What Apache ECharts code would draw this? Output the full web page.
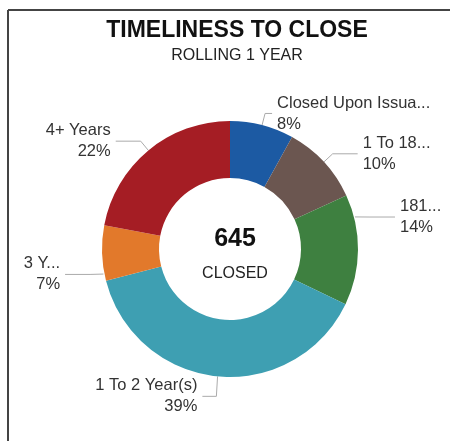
<!DOCTYPE html>
<html>
<head>
<meta charset="utf-8">
<script src="https://cdn.jsdelivr.net/npm/echarts@6/dist/echarts.min.js"></script>
<style>
html,body{margin:0;padding:0;background:#fff;}
#chart{width:450px;height:441px;}
</style>
</head>
<body>
<div id="chart"></div>
<script>
var categories = ["Closed Upon Issua...", "1 To 18...", "181...", "1 To 2 Year(s)", "3 Y...", "4+ Years"];
var values = [52, 65, 90, 251, 45, 142];
var colors = ["#1c5aa3", "#6b5650", "#3e8040", "#3e9fb2", "#e2792b", "#a51d24"];
var titleText = "TIMELINESS TO CLOSE";
var subtitleText = "ROLLING 1 YEAR";
var centerCaption = "CLOSED";

// label styling tweaks (line lengths / vertical nudges), not data
var lineLen2 = [7, 25, 25, 14, 25, 25];
var labelNudgeY = [0, 0, -33, 8, 21, 0];

var CX = 230, CY = 249, R_IN = 71, R_OUT = 128;

var total = values.reduce(function(a,b){return a+b;},0);
var data = categories.map(function(c,i){
  return {name:c, value:values[i], itemStyle:{color:colors[i]}, labelLine:{length2:lineLen2[i]}};
});

var chart = echarts.init(document.getElementById('chart'), null, {renderer:'canvas'});
var font = 'Liberation Sans, Arial, sans-serif';
chart.setOption({
  animation:false,
  title:[
    {text:titleText, left:232, top:14, textAlign:'center',
     textStyle:{fontFamily:font, fontSize:23, fontWeight:'bold', color:'#111'}},
    {text:subtitleText, left:232, top:43, textAlign:'center',
     textStyle:{fontFamily:font, fontSize:16, fontWeight:'normal', color:'#222'}},
    {text:String(total), left:230, top:222, textAlign:'center',
     textStyle:{fontFamily:font, fontSize:25, fontWeight:'bold', color:'#111'}},
    {text:centerCaption, left:230, top:261, textAlign:'center',
     textStyle:{fontFamily:font, fontSize:16, fontWeight:'normal', color:'#222'}}
  ],
  graphic:[
    {type:'line', shape:{x1:8,y1:10,x2:450,y2:10}, style:{stroke:'#444', lineWidth:2}},
    {type:'line', shape:{x1:8,y1:10,x2:8,y2:441}, style:{stroke:'#444', lineWidth:2}}
  ],
  series:[{
    type:'pie',
    center:[CX,CY],
    radius:[R_IN,R_OUT],
    startAngle:90,
    clockwise:true,
    avoidLabelOverlap:false,
    data:data,
    label:{
      show:true,
      formatter:function(p){return p.name + '\n' + Math.round(p.percent) + '%';},
      fontFamily:font,
      fontSize:16.5,
      lineHeight:21,
      color:'#333'
    },
    labelLine:{
      show:true,
      length:12,
      length2:25,
      lineStyle:{color:'#aaa', width:1}
    },
    labelLayout:function(p){
      var d = labelNudgeY[p.dataIndex];
      if (!d || !p.labelLinePoints) return {};
      var pts = p.labelLinePoints.map(function(q){return [q[0], q[1]];});
      var side = pts[0][0] < CX ? -1 : 1;
      var isBottom = pts[0][1] > CY + R_OUT * 0.9;
      if (isBottom) {
        pts[1][1] += d; pts[2][1] += d;
      } else {
        var y0 = pts[0][1] + d;
        var dyc = y0 - CY;
        pts[0] = [CX + side * Math.sqrt(Math.max(0, (R_OUT + 1) * (R_OUT + 1) - dyc * dyc)), y0];
        pts[1][1] += d; pts[2][1] += d;
      }
      return {dy:d, labelLinePoints:pts};
    },
    itemStyle:{borderWidth:0}
  }]
});
</script>
</body>
</html>
